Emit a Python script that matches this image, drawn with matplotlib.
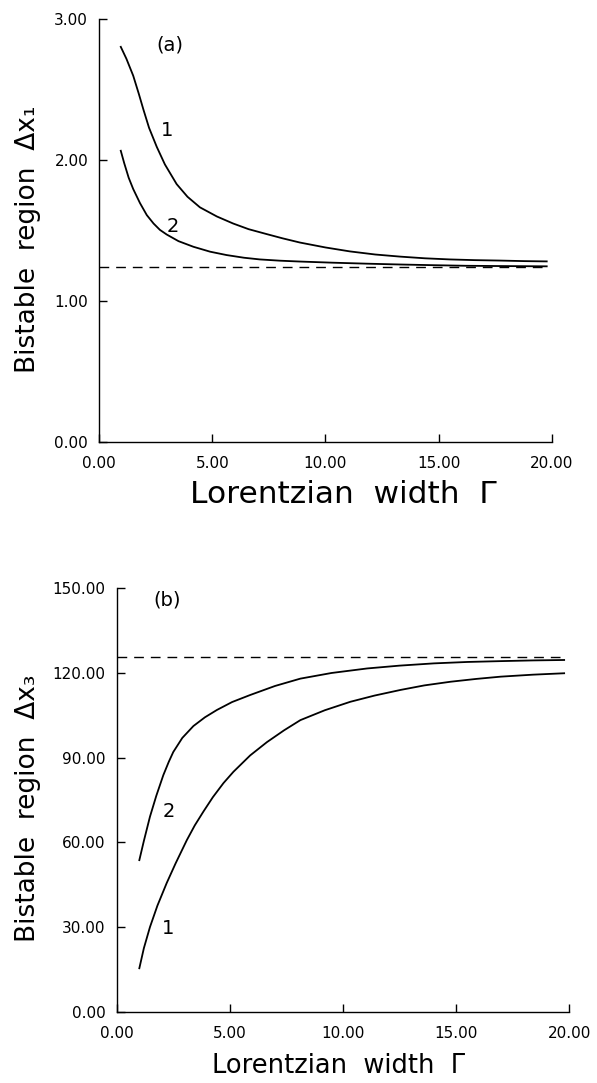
import numpy as np
import matplotlib.pyplot as plt

# panel (a): bistable region dx1 vs Lorentzian width
gam_a1 = [0.95, 1.2, 1.5, 1.75, 1.95, 2.2, 2.54, 2.9, 3.42, 3.9, 4.45, 5.2, 5.92, 6.6,
          7.4, 8.1, 8.87, 10.0, 11.08, 12.2, 13.3, 14.4, 15.5, 16.6, 17.7, 18.8, 19.78]
dx1_c1 = [2.805, 2.72, 2.60, 2.47, 2.36, 2.23, 2.095, 1.97, 1.83, 1.74, 1.665, 1.60, 1.55, 1.51,
          1.475, 1.445, 1.415, 1.38, 1.352, 1.33, 1.315, 1.303, 1.295, 1.29, 1.287, 1.283, 1.281]
gam_a2 = [0.95, 1.1, 1.3, 1.5, 1.8, 2.1, 2.4, 2.68, 2.98, 3.5, 4.16, 4.9, 5.63, 6.4,
          7.1, 8.0, 8.87, 10.3, 11.8, 13.3, 14.8, 16.2, 17.7, 19.78]
dx1_c2 = [2.067, 1.98, 1.875, 1.795, 1.695, 1.61, 1.55, 1.505, 1.472, 1.425, 1.385, 1.35, 1.326, 1.307,
          1.295, 1.286, 1.28, 1.272, 1.265, 1.259, 1.254, 1.25, 1.248, 1.246]
dx1_limit = 1.24

# panel (b): bistable region dx3
gam_b1 = [1.0, 1.2, 1.47, 1.8, 2.21, 2.6, 3.1, 3.45, 3.84, 4.25, 4.72, 5.16, 5.9, 6.64,
          7.4, 8.12, 9.2, 10.33, 11.4, 12.55, 13.6, 14.76, 15.9, 16.98, 18.4, 19.78]
dx3_c1 = [15.4, 22.5, 30.0, 37.6, 45.6, 52.5, 60.8, 66.0, 71.0, 76.0, 81.0, 85.0, 90.8, 95.5,
          99.7, 103.3, 106.8, 109.8, 112.0, 114.0, 115.6, 116.9, 117.9, 118.7, 119.4, 119.9]
gam_b2 = [1.0, 1.2, 1.47, 1.75, 2.06, 2.3, 2.5, 2.9, 3.39, 3.9, 4.43, 5.1, 5.9, 7.0,
          8.12, 9.5, 11.07, 12.5, 14.02, 15.5, 16.98, 18.4, 19.78]
dx3_c2 = [53.7, 60.5, 69.1, 76.5, 83.8, 88.5, 92.0, 97.0, 101.2, 104.3, 106.9, 109.7, 112.2, 115.4,
          118.0, 120.0, 121.6, 122.6, 123.4, 123.9, 124.2, 124.45, 124.6]
dx3_limit = 125.5

xticks = [0, 5, 10, 15, 20]
yticks_a = [0, 1, 2, 3]
yticks_b = [0, 30, 60, 90, 120, 150]

plt.rcParams['font.family'] = 'DejaVu Sans'

fig = plt.figure(figsize=(5.97, 10.83), dpi=100)
ax1 = fig.add_axes([0.1663, 0.5921, 0.7578, 0.390])
ax2 = fig.add_axes([0.1955, 0.0658, 0.7578, 0.391])


def style(ax, yticks):
    for s in ['top', 'right']:
        ax.spines[s].set_visible(False)
    for s in ['left', 'bottom']:
        ax.spines[s].set_linewidth(1.0)
    ax.set_xlim(0, 20)
    ax.set_ylim(yticks[0], yticks[-1])
    ax.set_xticks(xticks)
    ax.set_xticklabels(['%.2f' % v for v in xticks])
    ax.set_yticks(yticks)
    ax.set_yticklabels(['%.2f' % v for v in yticks])
    ax.tick_params(direction='in', length=6, width=1.0, labelsize=11)
    ax.tick_params(axis='x', pad=10)
    ax.tick_params(axis='y', pad=8)


# (a)
ax1.plot(gam_a1, dx1_c1, color='black', lw=1.3)
ax1.plot(gam_a2, dx1_c2, color='black', lw=1.3)
ax1.axhline(dx1_limit, xmax=0.995, color='black', lw=1.0, dashes=(7, 5))
style(ax1, yticks_a)
ax1.text(2.98, 2.21, '1', fontsize=14, ha='center', va='center')
ax1.text(3.27, 1.527, '2', fontsize=14, ha='center', va='center')
ax1.text(3.13, 2.82, '(a)', fontsize=14, ha='center', va='center')
ax1.set_xlabel('Lorentzian  width  Γ', fontsize=22.5, va='center')
ax1.xaxis.set_label_coords(0.54, -0.126)
ax1.set_ylabel('Bistable  region  Δx₁', fontsize=19, va='center')
ax1.yaxis.set_label_coords(-0.158, 0.48)

# (b)
ax2.plot(gam_b1, dx3_c1, color='black', lw=1.3)
ax2.plot(gam_b2, dx3_c2, color='black', lw=1.3)
ax2.axhline(dx3_limit, xmax=0.98, color='black', lw=1.0, dashes=(7, 5))
style(ax2, yticks_b)
ax2.text(2.29, 70.8, '2', fontsize=14, ha='center', va='center')
ax2.text(2.29, 29.5, '1', fontsize=14, ha='center', va='center')
ax2.text(2.21, 145.8, '(b)', fontsize=14, ha='center', va='center')
ax2.set_xlabel('Lorentzian  width  Γ', fontsize=18.5, va='center')
ax2.xaxis.set_label_coords(0.49, -0.128)
ax2.set_ylabel('Bistable  region  Δx₃', fontsize=19, va='center')
ax2.yaxis.set_label_coords(-0.197, 0.48)

fig.savefig('out.png', dpi=100)
